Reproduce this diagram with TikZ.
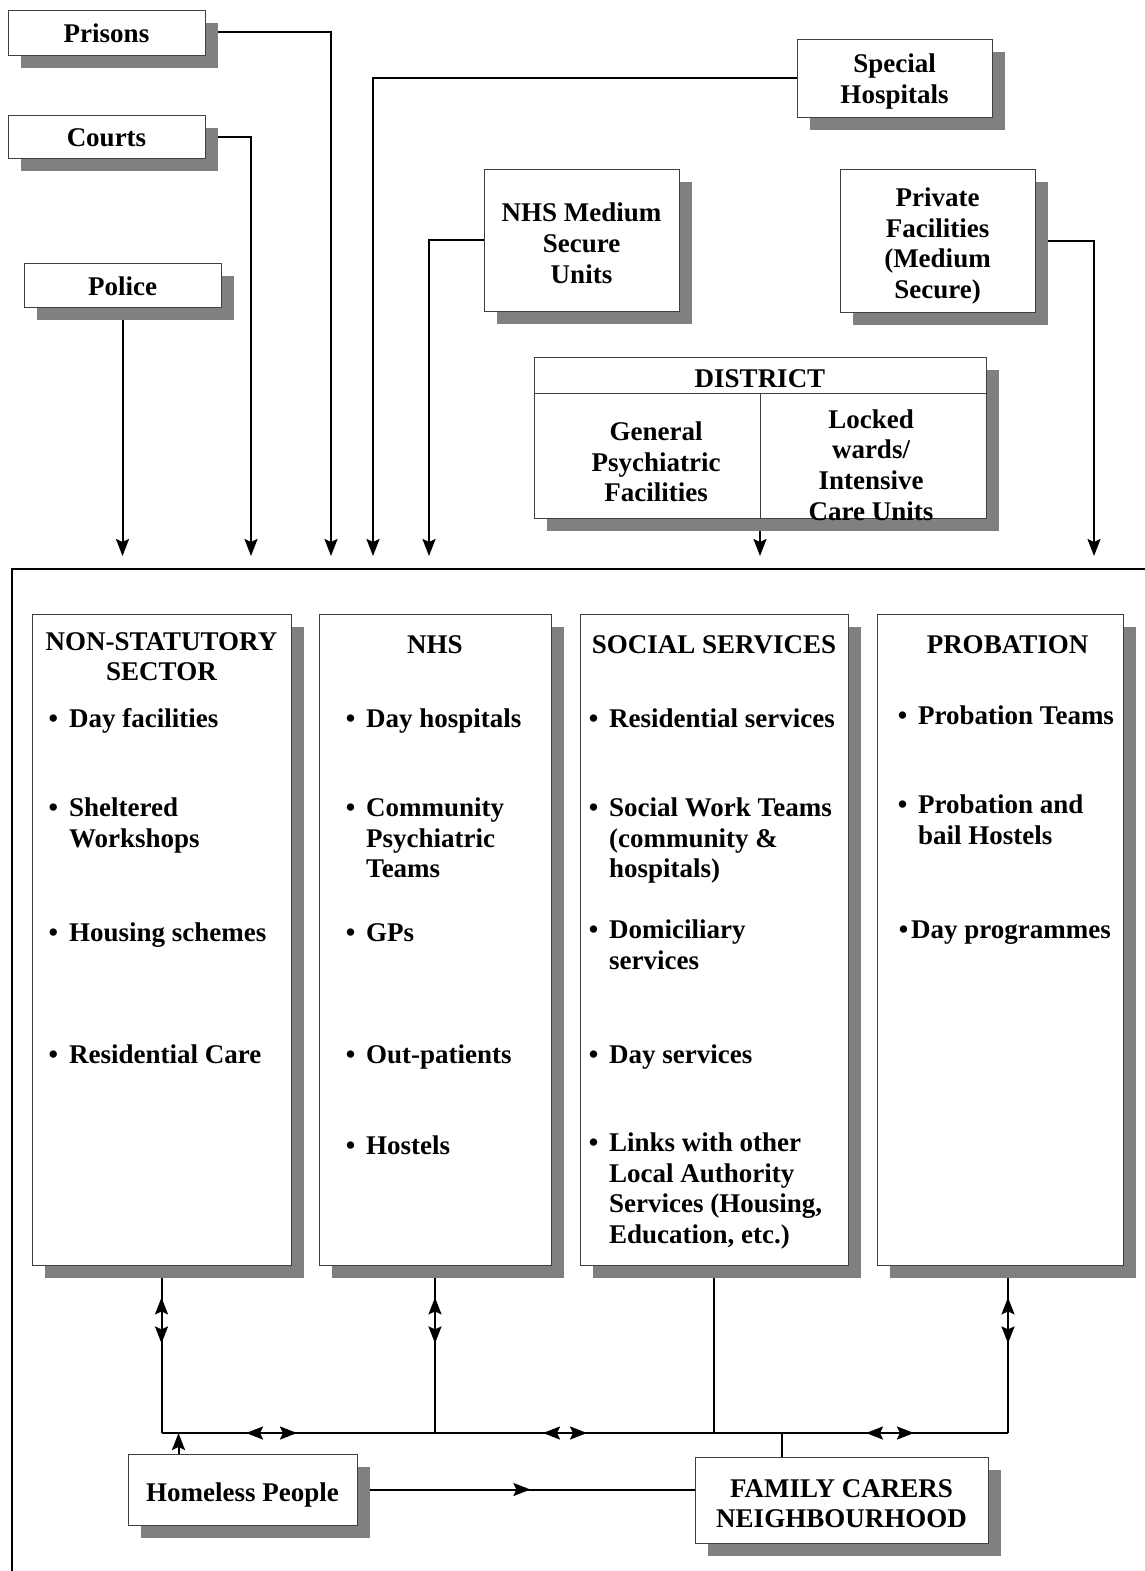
\documentclass[tikz,border=0pt]{standalone}
\usepackage{fontspec}
\setmainfont{Liberation Serif}
\usetikzlibrary{arrows.meta,positioning,shadows,backgrounds,decorations.markings}

\newcommand{\itembullet}{\llap{\textbullet\hspace{11pt}}}
\newcommand{\lift}[1]{\rule{0pt}{#1}}

\tikzset{
    boxline/.style={draw=black!75, line width=0.8pt},
    box/.style={boxline, fill=white, inner sep=0pt, align=center,
        drop shadow={shadow xshift=13pt, shadow yshift=-13pt, fill=black!50, opacity=1}},
    head/.style={anchor=north, align=center, inner sep=0pt, execute at begin node=\strut},
    item/.style={anchor=north west, align=left, inner sep=0pt, execute at begin node=\strut},
    link/.style={line width=2pt},
    arr/.style={link, ->},
    updown/.style={postaction={decorate, decoration={markings,
        mark=at position 32pt with {\arrowreversed{>}},
        mark=at position 78pt with {\arrow{>}}}}},
    busline/.style={postaction={decorate, decoration={markings,
        mark=at position 84.5pt with {\arrowreversed{>}},
        mark=at position 135.5pt with {\arrow{>}},
        mark=at position 381.5pt with {\arrowreversed{>}},
        mark=at position 425.5pt with {\arrow{>}},
        mark=at position 704.5pt with {\arrowreversed{>}},
        mark=at position 752.5pt with {\arrow{>}}}}},
    midarr/.style={postaction={decorate, decoration={markings,
        mark=at position 173pt with {\arrow{>}}}}}
}

\begin{document}
\begin{tikzpicture}[x=1pt, y=-1pt, >={Stealth[length=17pt,width=13pt,inset=3pt]},
        every node/.style={font=\bfseries\fontsize{27}{30.7}\selectfont}]
        \useasboundingbox (0,0) rectangle (1145,1571);

        % referring bodies and secure units
        \node[box, minimum width=197pt, minimum height=45pt] (prisons) at (106.5,32.5) {\lift{21pt}Prisons};
        \node[box, minimum width=197pt, minimum height=43pt] (courts) at (106.5,136.5) {\lift{21pt}Courts};
        \node[box, minimum width=197pt, minimum height=44pt] (police) at (122.5,285) {\lift{22pt}Police};
        \node[box, minimum width=195pt, minimum height=78pt] (special) at (894.5,78) {\lift{26pt}Special\\Hospitals};
        \node[box, minimum width=195pt, minimum height=142pt] (nhsmsu) at (581.5,240) {\lift{25pt}NHS Medium\\Secure\\Units};
        \node[box, minimum width=195pt, minimum height=143pt] (private) at (937.5,240.5) {\lift{30pt}Private\\Facilities\\(Medium\\Secure)};

        \node[box, minimum width=452pt, minimum height=161pt] (district) at (760,437.5) {};
        \coordinate (districtsplit) at (760,393);
        \draw[boxline] (district.west |- districtsplit) -- (district.east |- districtsplit);
        \draw[boxline] (districtsplit) -- (district.south);
        \node (districthead) at (760,379) {DISTRICT};
        \node[align=center] (genpsych) at (656,462) {General\\Psychiatric\\Facilities};
        \node[align=center] (locked) at (871,465) {Locked\\wards/\\Intensive\\Care Units};

        % the four agencies
        \node[box, minimum width=259pt, minimum height=651pt] (nonstat) at (161.5,939.5) {};
        \node[box, minimum width=232pt, minimum height=651pt] (nhs) at (435,939.5) {};
        \node[box, minimum width=268pt, minimum height=651pt] (socserv) at (714,939.5) {};
        \node[box, minimum width=246pt, minimum height=651pt] (probation) at (1000,939.5) {};

        \node[head, below=18.5pt of nonstat.north] (nonstathead) {NON-STATUTORY\\SECTOR};
        \node[head, below=18.5pt of nhs.north] (nhshead) {NHS};
        \node[head, below=18.5pt of socserv.north] (socservhead) {SOCIAL SERVICES};
        \node[head, below=18.5pt of probation.north, xshift=7.5pt] (probationhead) {PROBATION};

        \node[item] (nonstat1) at (69,705.5) {\itembullet Day facilities};
        \node[item] (nonstat2) at (69,797.5) {\itembullet Sheltered\\Workshops};
        \node[item] (nonstat3) at (69,919.5) {\itembullet Housing schemes};
        \node[item] (nonstat4) at (69,1041.5) {\itembullet Residential Care};

        \node[item] (nhs1) at (366,705.5) {\itembullet Day hospitals};
        \node[item] (nhs2) at (366,797.5) {\itembullet Community\\Psychiatric\\Teams};
        \node[item] (nhs3) at (366,919.5) {\itembullet GPs};
        \node[item] (nhs4) at (366,1041.5) {\itembullet Out-patients};
        \node[item] (nhs5) at (366,1132.5) {\itembullet Hostels};

        \node[item] (socserv1) at (609,705.5) {\itembullet Residential services};
        \node[item] (socserv2) at (609,797.5) {\itembullet Social Work Teams\\(community \&\\hospitals)};
        \node[item] (socserv3) at (609,919.5) {\itembullet Domiciliary\\services};
        \node[item] (socserv4) at (609,1041.5) {\itembullet Day services};
        \node[item] (socserv5) at (609,1132.5) {\itembullet Links with other\\Local Authority\\Services (Housing,\\Education, etc.)};

        \node[item] (probation1) at (918,702.5) {\itembullet Probation Teams};
        \node[item] (probation2) at (918,794.5) {\itembullet Probation and\\bail Hostels};
        \node[item] (probation3) at (911,916.5) {\llap{\textbullet\hspace{3pt}}Day programmes};

        % community
        \node[box, minimum width=229pt, minimum height=71pt] (homeless) at (242.5,1489.5) {\lift{30pt}Homeless People};
        \node[box, minimum width=293pt, minimum height=86pt] (family) at (841.5,1500) {\lift{25pt}FAMILY CARERS\\NEIGHBOURHOOD};

        \begin{scope}[on background layer]
            \draw[line width=2.2pt] (1145,569) -- (12,569) -- (12,1571);

            \foreach \n/\x in {police/122.5, courts/251, prisons/331, special/373, nhsmsu/429, district/760, private/1094}
                \coordinate (\n-in) at (\x,556);

            \draw[arr] (police.south) -- (police-in);
            \draw[arr] (courts.east) -| (courts-in);
            \draw[arr] (prisons.east) -| (prisons-in);
            \draw[arr] (special.west) -| (special-in);
            \draw[arr] (nhsmsu.west) -| (nhsmsu-in);
            \draw[arr] (district.south) -- (district-in);
            \draw[arr] (private.east) -| (private-in);

            \coordinate (bus-l) at (161.5,1433);
            \coordinate (bus-r) at (1008,1433);

            \draw[link, updown] (nonstat.south) -- (nonstat.south |- bus-l);
            \draw[link, updown] (nhs.south) -- (nhs.south |- bus-l);
            \draw[link] (socserv.south) -- (socserv.south |- bus-l);
            \draw[link, updown] ([xshift=8pt]probation.south) -- (bus-r);
            \draw[link, line width=2.2pt, busline] (bus-l) -- (bus-r);

            \draw[arr] ([xshift=-64pt]homeless.north) -- ([xshift=-64pt]homeless.north |- bus-l);
            \draw[link] ([xshift=-59.5pt]family.north) -- ([xshift=-59.5pt]family.north |- bus-l);
            \draw[link, midarr] (homeless.east) -- (homeless.east -| family.west);
        \end{scope}
    \end{tikzpicture}
\end{document}
